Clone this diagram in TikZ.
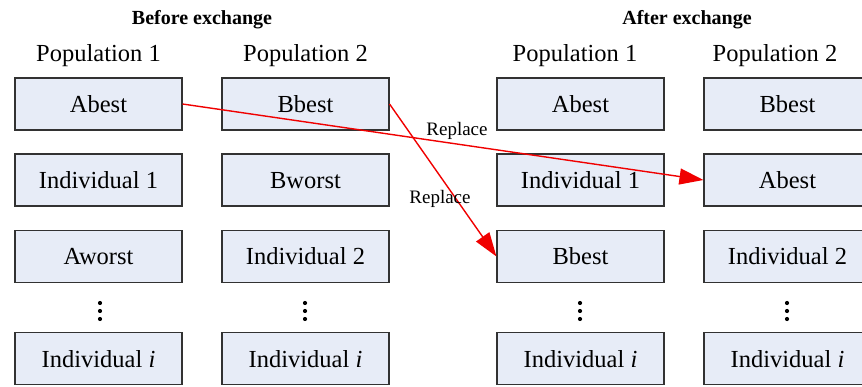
\documentclass[tikz,border=0pt]{standalone}
\usepackage{fontspec}
\setmainfont{Liberation Serif}
\usetikzlibrary{arrows.meta}
\definecolor{boxfill}{RGB}{231,236,247}
\definecolor{boxline}{RGB}{50,50,50}
\definecolor{arrowred}{RGB}{240,0,0}
\begin{document}
\begin{tikzpicture}[x=1pt,y=-1pt,
  indiv/.style={draw=boxline,line width=1.1pt,fill=boxfill,minimum width=167pt,minimum height=52pt,
    inner sep=0pt,font=\fontsize{24.5}{28}\selectfont,text height=17pt,text depth=0pt},
  colhead/.style={anchor=base,font=\fontsize{24.5}{28}\selectfont},
  phase/.style={anchor=base,font=\fontsize{20}{24}\selectfont\bfseries},
  swap/.style={draw=arrowred,line width=1.4pt,-{Triangle[length=24pt,width=16pt]}},
  swaplabel/.style={font=\fontsize{19}{22}\selectfont},
  dotmark/.style={circle,fill=black,inner sep=0pt,minimum size=4.2pt}]
\useasboundingbox (0,0) rectangle (862,387);
\clip (0,0) rectangle (862,387);

% headings
\node[phase] (before) at (202,25) {Before exchange};
\node[phase] (after) at (687,25) {After exchange};
\node[colhead] (h1) at (98.5,62) {Population 1};
\node[colhead] (h2) at (305.5,62) {Population 2};
\node[colhead] (h3) at (575,62) {Population 1};
\node[colhead] (h4) at (775,62) {Population 2};

% populations before the exchange
\node[indiv] (a1) at (98.5,104) {Abest};
\node[indiv] (a2) at (98.5,180) {Individual 1};
\node[indiv] (a3) at (98.5,256.5) {Aworst};
\node[indiv] (a5) at (98.5,358.5) {Individual \textit{i}};
\node[indiv] (b1) at (305.5,104) {Bbest};
\node[indiv] (b2) at (305.5,180) {Bworst};
\node[indiv] (b3) at (305.5,256.5) {Individual 2};
\node[indiv] (b5) at (305.5,358.5) {Individual \textit{i}};

% populations after the exchange
\node[indiv] (c1) at (580.5,104) {Abest};
\node[indiv] (c2) at (580.5,180) {Individual 1};
\node[indiv] (c3) at (580.5,256.5) {Bbest};
\node[indiv] (c5) at (580.5,358.5) {Individual \textit{i}};
\node[indiv] (d1) at (787.5,104) {Bbest};
\node[indiv] (d2) at (787.5,180) {Abest};
\node[indiv] (d3) at (787.5,256.5) {Individual 2};
\node[indiv] (d5) at (787.5,358.5) {Individual \textit{i}};

% vertical ellipses
\foreach \cx/\nm in {100/a,305/b,580/c,787/d}{
  \node[dotmark] (\nm dot1) at (\cx,303) {};
  \node[dotmark] (\nm dot2) at (\cx,311) {};
  \node[dotmark] (\nm dot3) at (\cx,319) {};
}

% exchange of best individuals
\draw[swap] (a1.east) -- (d2.west);
\draw[swap] (b1.east) -- (c3.west);
\node[swaplabel] (r1) at (457,131) {Replace};
\node[swaplabel] (r2) at (440,199) {Replace};
\end{tikzpicture}
\end{document}
